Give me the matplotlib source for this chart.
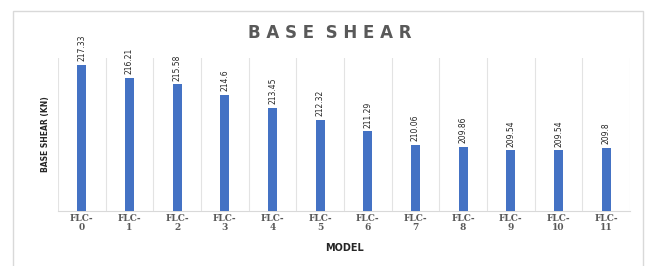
import matplotlib
matplotlib.use("Agg")
import matplotlib.pyplot as plt
from matplotlib.patches import Rectangle

models = ["FLC-\n0", "FLC-\n1", "FLC-\n2", "FLC-\n3", "FLC-\n4", "FLC-\n5",
          "FLC-\n6", "FLC-\n7", "FLC-\n8", "FLC-\n9", "FLC-\n10", "FLC-\n11"]
base_shear = [217.33, 216.21, 215.58, 214.6, 213.45, 212.32,
              211.29, 210.06, 209.86, 209.54, 209.54, 209.8]

fig = plt.figure(figsize=(6.51, 2.66), dpi=100)
fig.patch.set_facecolor("white")
# outer chart border
fig.patches.append(Rectangle((13/651, -0.05), (643-13)/651, (266-11)/266 + 0.05,
                             transform=fig.transFigure, fill=False,
                             edgecolor="#d9d9d9", linewidth=1.0))

ax = fig.add_axes([58/651, (266-211)/266, (630-58)/651, (211-58)/266])
x = list(range(len(models)))
ax.bar(x, [v - 204 for v in base_shear], bottom=204, width=0.19, color="#4472C4", zorder=3)
ax.set_ylim(204, 218)
ax.set_xlim(-0.5, len(models) - 0.5)

for i, v in enumerate(base_shear):
    ax.text(i, v + 0.35, f"{v:g}", rotation=90, ha="center", va="bottom",
            fontsize=5.5, color="#262626", clip_on=False)

for b in range(len(models) + 1):
    ax.axvline(b - 0.5, color="#e3e3e3", linewidth=0.8, zorder=1)

for s in ["top", "right", "left"]:
    ax.spines[s].set_visible(False)
ax.spines["bottom"].set_color("#d9d9d9")
ax.set_yticks([])
ax.set_xticks(x)
ax.set_xticklabels(models, fontsize=6.5, family="DejaVu Serif", fontweight="bold",
                   color="#595959", linespacing=1.0)
ax.tick_params(axis="x", length=0, pad=2)

ax.set_xlabel("MODEL", fontsize=7, fontweight="bold", color="#262626", labelpad=8)
ax.set_ylabel("BASE SHEAR (KN)", fontsize=5.5, fontweight="bold", color="#262626", labelpad=6)

fig.text(330/651, 1 - 33/266, "B A S E  S H E A R", ha="center", va="center",
         fontsize=12, fontweight="bold", color="#595959")

fig.savefig("out.png", dpi=100)
